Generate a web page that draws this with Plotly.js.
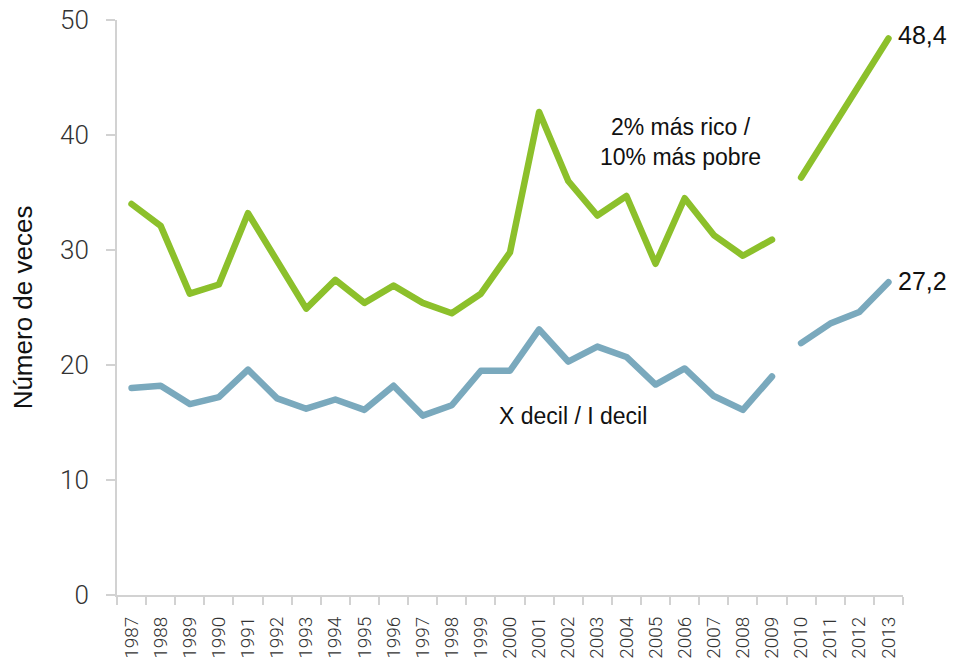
<!DOCTYPE html>
<html>
<head>
<meta charset="utf-8">
<script src="https://cdn.plot.ly/plotly-3.0.1.min.js"></script>
<style>
  html, body { margin: 0; padding: 0; background: #fff; }
  #chart { width: 953px; height: 658px; }
  .js-line { stroke-linecap: round; stroke-linejoin: round; }
</style>
</head>
<body>
<div id="chart"></div>
<script>
// ---- data ----
const years = ['1987','1988','1989','1990','1991','1992','1993','1994','1995','1996','1997','1998','1999',
               '2000','2001','2002','2003','2004','2005','2006','2007','2008','2009','2010','2011','2012','2013'];
// 2% más rico / 10% más pobre
const richPoor = [34.0, 32.1, 26.2, 27.0, 33.2, 29.0, 24.9, 27.4, 25.4, 26.9, 25.4, 24.5, 26.2,
                  29.8, 42.0, 36.0, 33.0, 34.7, 28.8, 34.5, 31.3, 29.5, 30.9, 36.3, 40.3, 44.2, 48.4];
// X decil / I decil
const decile = [18.0, 18.2, 16.6, 17.2, 19.6, 17.1, 16.2, 17.0, 16.1, 18.2, 15.6, 16.5, 19.5,
                19.5, 23.1, 20.3, 21.6, 20.7, 18.3, 19.7, 17.3, 16.1, 19.0, 21.9, 23.6, 24.6, 27.2];
const breakYear = '2010';   // series restart (methodology change)
const yTicks = [0, 10, 20, 30, 40, 50];

const labelRichPoor = '2% más rico /<br>10% más pobre';
const labelDecile = 'X decil / I decil';
const yTitle = 'Número de veces';

// ---- build ----
const green = '#8cc02b';
const blue = '#7aa9bd';
const b = years.indexOf(breakYear);

function seg(x, y, color) {
  return {
    type: 'scatter', mode: 'lines', x: x, y: y,
    line: { color: color, width: 6.5 },
    hoverinfo: 'x+y', showlegend: false
  };
}

const traces = [
  seg(years.slice(0, b), richPoor.slice(0, b), green),
  seg(years.slice(b), richPoor.slice(b), green),
  seg(years.slice(0, b), decile.slice(0, b), blue),
  seg(years.slice(b), decile.slice(b), blue)
];

const last = years.length - 1;
const fmt = v => String(v).replace('.', ',');
const annFont = { family: 'Liberation Sans, Arial, sans-serif', size: 23, color: '#111' };
const endFont = { family: 'Liberation Sans, Arial, sans-serif', size: 25, color: '#111' };

const layout = {
  width: 953, height: 658,
  margin: { l: 117, r: 50, t: 20, b: 63 },
  paper_bgcolor: '#fff', plot_bgcolor: '#fff',
  showlegend: false,
  xaxis: {
    type: 'category',
    categoryorder: 'array', categoryarray: years,
    range: [-0.5, years.length - 0.5],
    showgrid: false, zeroline: false,
    showline: true, linecolor: '#d2d2d2', linewidth: 2,
    ticks: 'outside', tickson: 'boundaries', ticklen: 8, tickcolor: '#d2d2d2', tickwidth: 2,
    tickangle: -90,
    ticklabelstandoff: 12,
    tickfont: { family: 'Roboto, Liberation Sans, sans-serif', size: 19, color: '#333', weight: 300 },
    automargin: false
  },
  yaxis: {
    range: [0, 50],
    tickvals: yTicks,
    showgrid: false, zeroline: false,
    showline: true, linecolor: '#d2d2d2', linewidth: 2,
    ticks: 'outside', ticklen: 9, tickcolor: '#d2d2d2', tickwidth: 2,
    ticklabelstandoff: 12,
    tickfont: { family: 'Roboto, Liberation Sans, sans-serif', size: 26, color: '#333', weight: 300 },
    title: { text: yTitle, font: { family: 'Liberation Sans, Arial, sans-serif', size: 26, color: '#111' }, standoff: 20 },
    automargin: false
  },
  annotations: [
    { xref: 'x', yref: 'y', x: last, y: richPoor[last], text: fmt(richPoor[last]),
      showarrow: false, xanchor: 'left', yanchor: 'middle', xshift: 8, yshift: 3,
      font: endFont },
    { xref: 'x', yref: 'y', x: last, y: decile[last], text: fmt(decile[last]),
      showarrow: false, xanchor: 'left', yanchor: 'middle', xshift: 8, yshift: 1,
      font: endFont },
    { xref: 'x', yref: 'y', x: 18.85, y: 39.4, text: labelRichPoor,
      showarrow: false, xanchor: 'center', yanchor: 'middle', align: 'center', font: annFont },
    { xref: 'x', yref: 'y', x: 15.15, y: 15.6, text: labelDecile,
      showarrow: false, xanchor: 'center', yanchor: 'middle', font: annFont }
  ]
};

Plotly.newPlot('chart', traces, layout, { displayModeBar: false });
</script>
</body>
</html>
